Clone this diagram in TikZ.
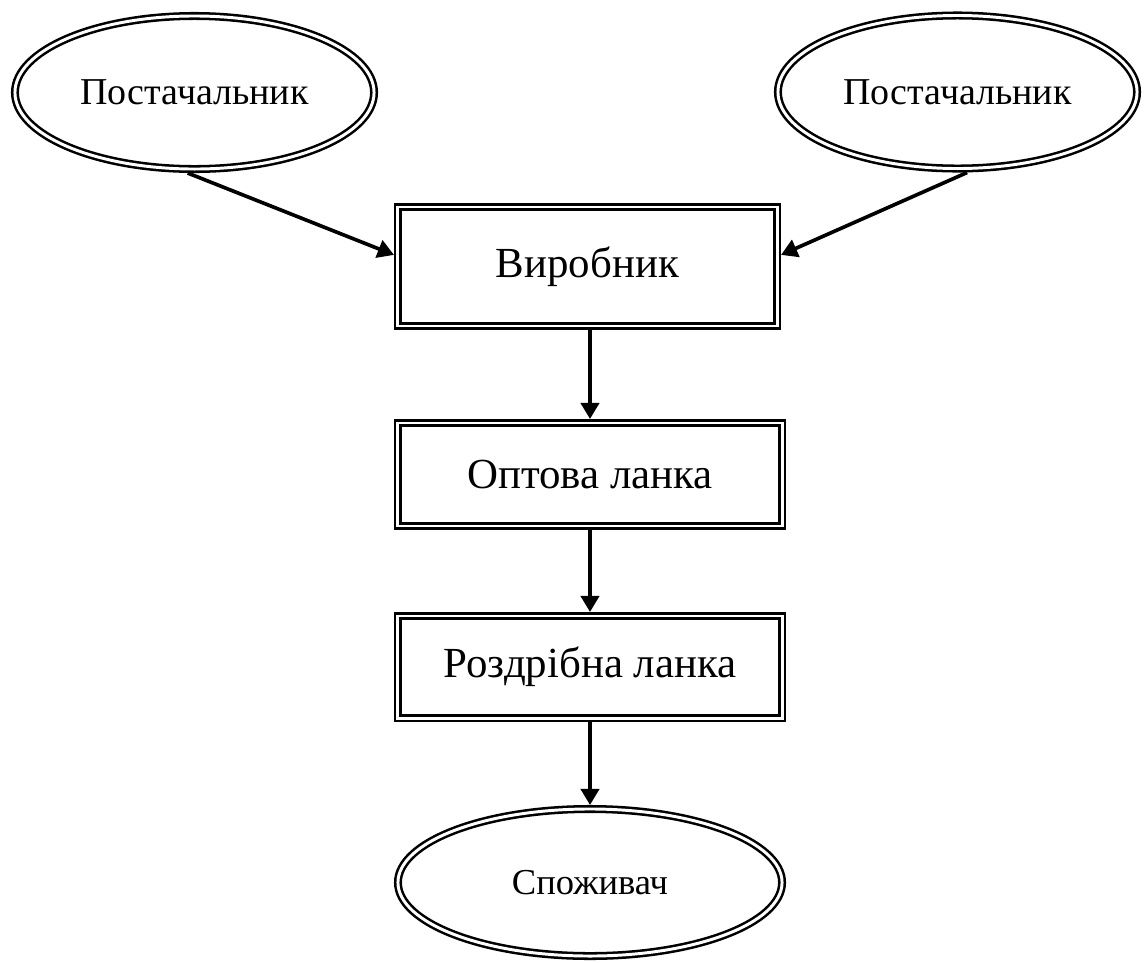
\documentclass[tikz,border=0pt]{standalone}
\usepackage{fontspec}
\setmainfont{Liberation Serif}
\usetikzlibrary{shapes.geometric,arrows.meta}

\tikzset{
  dbl/.style={draw=black, line width=1.8pt, double=white, double distance=2.1pt},
  unitbox/.style={dbl, rectangle, inner sep=0pt, outer sep=0.1cm, font=\fontsize{30.5}{36}\selectfont},
  agent/.style={dbl, ellipse, inner sep=0pt, outer sep=0.1cm, font=\fontsize{27}{32}\selectfont},
  flow/.style={line width=2.6pt, -{Triangle[length=11.5pt, width=13pt]}}
}

\begin{document}
\begin{tikzpicture}[x=0.025cm, y=-0.025cm]
  \useasboundingbox (0,0) rectangle (1145,962);

  % suppliers
  \node[agent, minimum width=8.975cm, minimum height=3.825cm] (supL) at (194.5,92.5) {Постачальник};
  \node[agent, minimum width=8.975cm, minimum height=3.825cm] (supR) at (957.5,92) {Постачальник};

  % chain links
  \node[unitbox, minimum width=9.475cm, minimum height=2.975cm] (maker) at (587.5,266.5) {Виробник};
  \node[unitbox, minimum width=9.6cm, minimum height=2.575cm] (whole) at (590,474.5) {Оптова ланка};
  \node[unitbox, minimum width=9.6cm, minimum height=2.55cm] (retail) at (590,667) {Роздрібна ланка};

  % consumer
  \node[agent, minimum width=9.6cm, minimum height=3.675cm, font=\fontsize{26}{31}\selectfont] (cons) at (590,882.5) {Споживач};

  % flows
  \draw[flow] ([xshift=-0.17cm]supL.south) -- ([yshift=0.29cm]maker.west);
  \draw[flow] ([xshift=0.24cm]supR.south) -- ([yshift=0.29cm]maker.east);
  \draw[flow] (maker.south -| whole.north) -- (whole.north);
  \draw[flow] (whole.south) -- (retail.north);
  \draw[flow] (retail.south) -- (cons.north);
\end{tikzpicture}
\end{document}
